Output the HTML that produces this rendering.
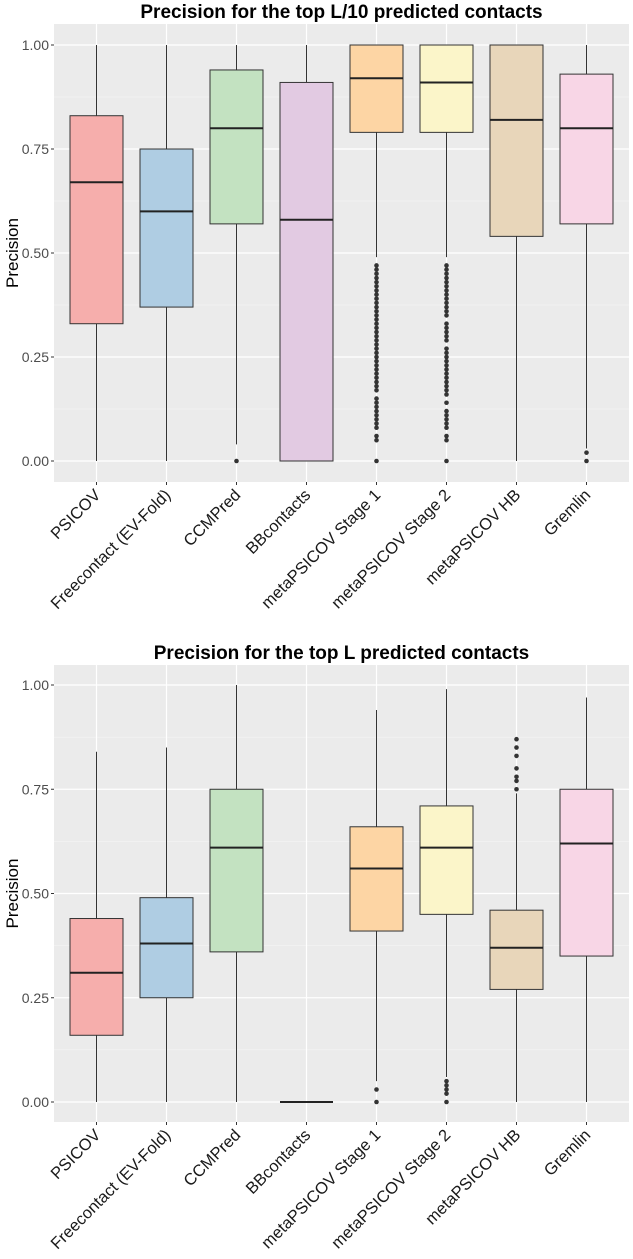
<!DOCTYPE html>
<html><head><meta charset="utf-8">
<style>
html,body{margin:0;padding:0;background:#fff;}
svg{display:block;font-family:"Liberation Sans",Arial,sans-serif;}
</style></head>
<body>
<svg id="chart" width="633" height="1259" viewBox="0 0 633 1259" xmlns="http://www.w3.org/2000/svg"></svg>
<script>
const categories = ["PSICOV","Freecontact (EV-Fold)","CCMPred","BBcontacts","metaPSICOV Stage 1","metaPSICOV Stage 2","metaPSICOV HB","Gremlin"];
const colors = ["#F6AEAC","#AFCDE3","#C3E2C1","#E2CAE2","#FDD5A4","#FBF5C9","#E8D6BA","#F8D6E6"];
const yTicks = [0,0.25,0.5,0.75,1];
const yTickLabels = ["0.00","0.25","0.50","0.75","1.00"];

// Top panel: [whiskerLow, q1, median, q3, whiskerHigh]
const topStats = [
  [0,0.33,0.67,0.83,1],
  [0,0.37,0.60,0.75,1],
  [0.04,0.57,0.80,0.94,1],
  [0,0,0.58,0.91,1],
  [0.49,0.79,0.92,1,1],
  [0.49,0.79,0.91,1,1],
  [0,0.54,0.82,1,1],
  [0.03,0.57,0.80,0.93,1]
];
const topOutliers = [
  [],[],[0],[],
  [0,0.05,0.06,0.08,0.09,0.10,0.11,0.12,0.13,0.14,0.15,0.17,0.18,0.19,0.20,0.21,0.22,0.23,0.24,0.25,0.26,0.27,0.28,0.29,0.30,0.31,0.32,0.33,0.34,0.35,0.36,0.37,0.38,0.39,0.40,0.41,0.42,0.43,0.44,0.45,0.46,0.47],
  [0,0.05,0.06,0.08,0.09,0.10,0.11,0.12,0.14,0.16,0.17,0.18,0.19,0.20,0.21,0.22,0.23,0.24,0.25,0.26,0.27,0.29,0.30,0.31,0.32,0.33,0.35,0.36,0.37,0.38,0.39,0.40,0.41,0.42,0.43,0.44,0.45,0.46,0.47],
  [],[0,0.02]
];
// Bottom panel
const botStats = [
  [0,0.16,0.31,0.44,0.84],
  [0,0.25,0.38,0.49,0.85],
  [0,0.36,0.61,0.75,1],
  [0,0,0,0,0],
  [0.05,0.41,0.56,0.66,0.94],
  [0.06,0.45,0.61,0.71,0.99],
  [0,0.27,0.37,0.46,0.74],
  [0,0.35,0.62,0.75,0.97]
];
const botOutliers = [
  [],[],[],[],
  [0,0.03],
  [0,0.02,0.03,0.04,0.05],
  [0.75,0.77,0.78,0.80,0.83,0.85,0.87],
  []
];

const NS="http://www.w3.org/2000/svg";
const svg=document.getElementById('chart');
function mk(tag,attrs,parent){const e=document.createElementNS(NS,tag);for(const k in attrs)e.setAttribute(k,attrs[k]);(parent||svg).appendChild(e);return e;}

function panel(opts){
  const {title,stats,outliers,top,bottom,y0,y1,name,titleY}=opts;
  const left=54,right=629,step=70,first=96.5,hw=26.5;
  const g=mk('g',{});
  
  
  const yS=v=>y0+(y1-y0)*v;
  const xS=i=>first+i*step;
  const bg=mk('rect',{x:left,y:top,width:right-left,height:bottom-top,fill:'#EBEBEB'},g);
  
  
  for(let k=0;k<4;k++){const v=0.125+k*0.25;mk('line',{x1:left,x2:right,y1:yS(v),y2:yS(v),stroke:'#F7F7F7','stroke-width':0.6},g);}
  yTicks.forEach((v,k)=>{
    mk('line',{x1:left,x2:right,y1:yS(v),y2:yS(v),stroke:'#fff','stroke-width':1.2},g);
    mk('line',{x1:left-3,x2:left,y1:yS(v),y2:yS(v),stroke:'#333','stroke-width':1},g);
    const t=mk('text',{x:left-5,y:yS(v)+5,'text-anchor':'end','font-size':14,fill:'#4D4D4D'},g);
    t.textContent=yTickLabels[k];
    
    
  });
  categories.forEach((c,i)=>{
    mk('line',{x1:xS(i),x2:xS(i),y1:top,y2:bottom,stroke:'#fff','stroke-width':1.2},g);
    mk('line',{x1:xS(i),x2:xS(i),y1:bottom,y2:bottom+3,stroke:'#333','stroke-width':1},g);
  });
  categories.forEach((c,i)=>{
    const s=stats[i],x=xS(i);
    const bx=mk('g',{},g);
    
    
    mk('line',{x1:x,x2:x,y1:yS(s[0]),y2:yS(s[1]),stroke:'#333','stroke-width':1},bx);
    mk('line',{x1:x,x2:x,y1:yS(s[3]),y2:yS(s[4]),stroke:'#333','stroke-width':1},bx);
    mk('rect',{x:x-hw,y:yS(s[3]),width:2*hw,height:Math.max(0,yS(s[1])-yS(s[3])),fill:colors[i],stroke:'#333','stroke-width':1},bx);
    mk('line',{x1:x-hw,x2:x+hw,y1:yS(s[2]),y2:yS(s[2]),stroke:'#222','stroke-width':2},bx);
    outliers[i].forEach(v=>{
      const p=mk('circle',{cx:x,cy:yS(v),r:2.3,fill:'#333'},bx);
      
      
    });
    const lx=x+5,ly=bottom+14;
    const t=mk('text',{x:lx,y:ly,'text-anchor':'end','font-size':16.5,fill:'#1a1a1a',transform:`rotate(-45 ${lx} ${ly})`},g);
    t.textContent=c;
    
    
  });
  const tt=mk('text',{x:(left+right)/2,y:titleY,'text-anchor':'middle','font-size':19,'font-weight':'bold',fill:'#000'},g);
  tt.textContent=title;
  
  
  const cy=(top+bottom)/2;
  const yt=mk('text',{x:18,y:cy,'text-anchor':'middle','font-size':17,fill:'#000',transform:`rotate(-90 18 ${cy})`},g);
  yt.textContent='Precision';
  
  
}
panel({title:'Precision for the top L/10 predicted contacts',stats:topStats,outliers:topOutliers,top:24,bottom:482,y0:461,y1:45,name:'top-l10-panel',titleY:18});
panel({title:'Precision for the top L predicted contacts',stats:botStats,outliers:botOutliers,top:665,bottom:1122,y0:1102,y1:685,name:'top-l-panel',titleY:659});
</script>
</body></html>
